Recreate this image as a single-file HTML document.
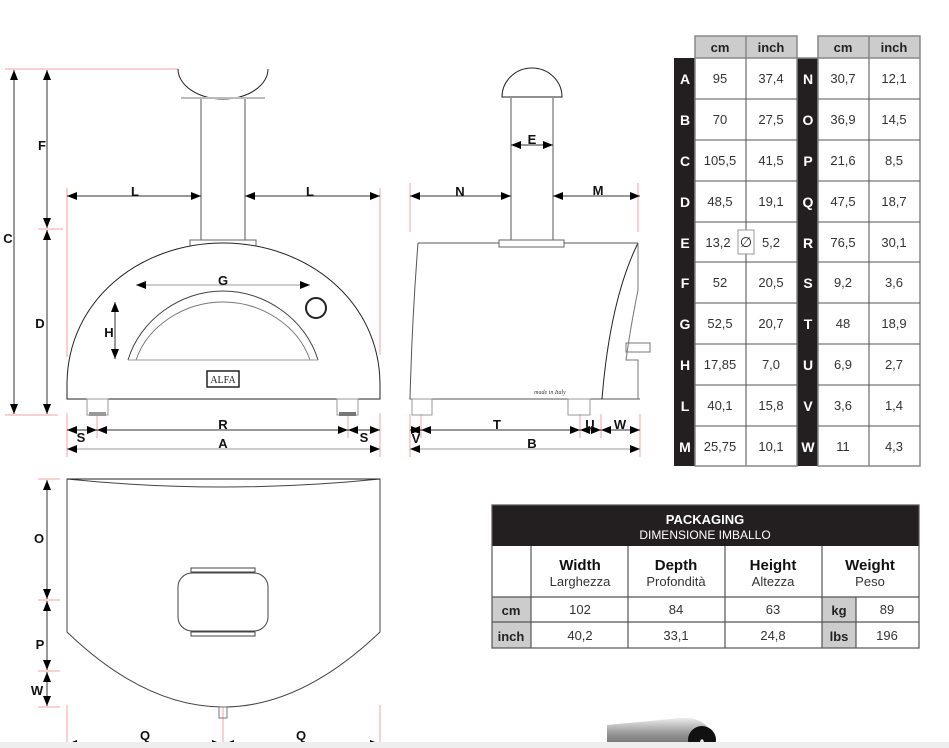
<!DOCTYPE html>
<html><head><meta charset="utf-8"><style>
body{margin:0;background:#fff;width:949px;height:748px;overflow:hidden;font-family:"Liberation Sans",sans-serif}
svg{position:absolute;left:0;top:0}
.l{font-family:"Liberation Sans",sans-serif;font-weight:bold;font-size:13px;fill:#111;text-anchor:middle}
.t{font-family:"Liberation Sans",sans-serif;font-size:13px;fill:#333;text-anchor:middle}
.w{font-family:"Liberation Sans",sans-serif;font-weight:900;font-size:14px;fill:#fff;text-anchor:middle}
</style></head><body>
<svg width="949" height="748" viewBox="0 0 949 748">
<defs>
<marker id="a" viewBox="0 0 10 8" refX="10" refY="4" markerWidth="10" markerHeight="8" markerUnits="userSpaceOnUse" orient="auto-start-reverse"><path d="M0,0L10,4L0,8Z" fill="#000"/></marker>
</defs>
<g stroke="#f4a0a0" stroke-width="1" fill="none">
<line x1="5" y1="69" x2="178" y2="69"/><line x1="5" y1="415" x2="58" y2="415"/><line x1="38" y1="229" x2="63" y2="229"/>
<line x1="67" y1="188" x2="67" y2="357"/><line x1="380" y1="188" x2="380" y2="355"/>
<line x1="106" y1="301" x2="208" y2="301"/><line x1="106" y1="360" x2="133" y2="360"/>
<line x1="67" y1="413" x2="67" y2="457"/><line x1="97" y1="413" x2="97" y2="438"/><line x1="348" y1="413" x2="348" y2="438"/><line x1="380" y1="413" x2="380" y2="457"/>
<line x1="310" y1="280" x2="310" y2="292"/>
<line x1="410" y1="183" x2="410" y2="232"/><line x1="638" y1="183" x2="638" y2="232"/>
<line x1="410" y1="414" x2="410" y2="457"/><line x1="421" y1="414" x2="421" y2="438"/><line x1="580" y1="414" x2="580" y2="438"/><line x1="601" y1="414" x2="601" y2="438"/><line x1="640" y1="414" x2="640" y2="457"/>
<line x1="38" y1="479" x2="60" y2="479"/><line x1="38" y1="600" x2="60" y2="600"/><line x1="38" y1="671" x2="60" y2="671"/><line x1="38" y1="707" x2="60" y2="707"/>
<line x1="67" y1="705" x2="67" y2="748"/><line x1="223" y1="705" x2="223" y2="748"/><line x1="380" y1="705" x2="380" y2="748"/>
</g>
<g stroke="#222" stroke-width="1" fill="none">
<path d="M178,69 A45,30 0 0 0 268,69"/>
<rect x="181" y="97" width="84" height="2" fill="#bbb" stroke="none"/>
<line x1="201" y1="99" x2="201" y2="240" stroke="#555"/><line x1="245" y1="99" x2="245" y2="240" stroke="#555"/>
<rect x="190" y="240" width="66" height="7" fill="#fff" stroke="#666"/>
<path d="M67,399 L67,385 C67,300 140,243 223,243 C306,243 380,300 380,385 L380,399 Z" fill="#fff"/>
<path d="M128,360 C140,320 180,291 223,291 C266,291 306,320 318,360" stroke="#444"/>
<path d="M136,360 C148,325 185,302 223,302 C261,302 298,325 310,360" stroke="#777"/>
<line x1="128" y1="360" x2="318" y2="360" stroke="#999"/>
<circle cx="316" cy="308" r="10" stroke-width="2"/>
<rect x="207" y="371" width="32" height="16" stroke-width="1.5"/>
<rect x="87" y="399" width="21" height="16" stroke="#999"/><rect x="89" y="412" width="17" height="4" fill="#999" stroke="none"/>
<rect x="337" y="399" width="21" height="16" stroke="#999"/><rect x="339" y="412" width="17" height="4" fill="#777" stroke="none"/>
<path d="M502,97 A30,29 0 0 1 562,97 Z" fill="#fff"/>
<line x1="511" y1="98" x2="511" y2="240" stroke="#555"/><line x1="553" y1="98" x2="553" y2="240" stroke="#555"/>
<rect x="499" y="240" width="65" height="7" fill="#fff" stroke="#666"/>
<path d="M418,243 L499,243 M564,243 L638,243 M418,243 Q412,320 410,399 L640,399" stroke="#555"/>
<path d="M638,243 Q610,300 602,399"/>
<path d="M638,243 L638,290 Q630,330 626,360 L638,360 L638,399" stroke="#777"/>
<rect x="626" y="343" width="24" height="9" stroke="#777"/>
<rect x="412" y="399" width="20" height="16" stroke="#999"/><rect x="568" y="399" width="22" height="16" stroke="#999"/>
<path d="M67,479 L67,632 Q223,782 380,632 L380,479 Q223,495 67,479 Z" fill="#fff" stroke="#444"/>
<line x1="67" y1="479" x2="380" y2="479"/>
<rect x="178" y="573" width="90" height="58" rx="14" stroke="#444"/>
<rect x="191" y="568" width="64" height="4" stroke="#444"/><rect x="191" y="632" width="64" height="4" stroke="#444"/>
<rect x="219" y="707" width="8" height="11" stroke="#777"/>
</g>
<g stroke="#333" stroke-width="1" marker-start="url(#a)" marker-end="url(#a)">
<line x1="14" y1="70" x2="14" y2="414"/>
<line x1="47" y1="70" x2="47" y2="228"/><line x1="47" y1="230" x2="47" y2="414"/>
<line x1="67" y1="196" x2="201" y2="196"/><line x1="245" y1="196" x2="380" y2="196"/>
<line x1="136" y1="285" x2="310" y2="285" stroke="#999"/>
<line x1="115" y1="302" x2="115" y2="359"/>
<line x1="67" y1="430" x2="97" y2="430"/><line x1="97" y1="430" x2="348" y2="430"/><line x1="348" y1="430" x2="380" y2="430"/>
<line x1="67" y1="449" x2="380" y2="449" stroke="#999"/>
<line x1="511" y1="145" x2="553" y2="145"/>
<line x1="410" y1="196" x2="511" y2="196"/><line x1="553" y1="196" x2="640" y2="196"/>
<line x1="410" y1="430" x2="421" y2="430"/><line x1="421" y1="430" x2="580" y2="430"/><line x1="580" y1="430" x2="601" y2="430"/><line x1="601" y1="430" x2="640" y2="430"/>
<line x1="410" y1="449" x2="640" y2="449" stroke="#999"/>
<line x1="47" y1="480" x2="47" y2="599"/><line x1="47" y1="601" x2="47" y2="670"/><line x1="47" y1="672" x2="47" y2="706"/>
<line x1="67" y1="744" x2="222" y2="744"/><line x1="224" y1="744" x2="380" y2="744"/>
</g>
<g class="l">
<text x="42" y="150" class="l">F</text><text x="8" y="243" class="l">C</text><text x="40" y="328" class="l">D</text>
<text x="135" y="196" class="l">L</text><text x="310" y="196" class="l">L</text>
<text x="223" y="285" class="l">G</text><text x="109" y="337" class="l">H</text>
<text x="223" y="429" class="l">R</text><text x="81" y="442" class="l">S</text><text x="364" y="442" class="l">S</text><text x="223" y="448" class="l">A</text>
<text x="532" y="144" class="l">E</text><text x="460" y="196" class="l">N</text><text x="598" y="195" class="l">M</text>
<text x="497" y="429" class="l">T</text><text x="416" y="443" class="l">V</text><text x="590" y="429" class="l">U</text><text x="620" y="429" class="l">W</text><text x="532" y="448" class="l">B</text>
<text x="39" y="543" class="l">O</text><text x="40" y="649" class="l">P</text><text x="37" y="695" class="l">W</text>
<text x="145" y="740" class="l">Q</text><text x="301" y="740" class="l">Q</text>
</g>
<text x="223" y="383" font-family="Liberation Serif,serif" font-size="10" text-anchor="middle" fill="#222">ALFA</text>
<text x="550" y="394" font-family="Liberation Serif,serif" font-style="italic" font-size="6" text-anchor="middle" fill="#333">made in Italy</text>

<rect x="695" y="36" width="102" height="22" fill="#ccc"/><rect x="818" y="36" width="102" height="22" fill="#ccc"/>
<rect x="674" y="58" width="21" height="408" fill="#231f20"/><rect x="797" y="58" width="21" height="408" fill="#231f20"/>
<g stroke="#888" stroke-width="1.5" fill="none">
<rect x="695" y="36" width="102" height="430"/><rect x="818" y="36" width="102" height="430"/>
<line x1="746" y1="36" x2="746" y2="466"/><line x1="869" y1="36" x2="869" y2="466"/>
<line x1="695" y1="58" x2="920" y2="58"/>
</g>
<g stroke="#555" stroke-width="1">
<line x1="695" y1="99" x2="797" y2="99"/><line x1="818" y1="99" x2="920" y2="99"/>
<line x1="695" y1="140" x2="797" y2="140"/><line x1="818" y1="140" x2="920" y2="140"/>
<line x1="695" y1="181" x2="797" y2="181"/><line x1="818" y1="181" x2="920" y2="181"/>
<line x1="695" y1="222" x2="797" y2="222"/><line x1="818" y1="222" x2="920" y2="222"/>
<line x1="695" y1="262" x2="797" y2="262"/><line x1="818" y1="262" x2="920" y2="262"/>
<line x1="695" y1="303" x2="797" y2="303"/><line x1="818" y1="303" x2="920" y2="303"/>
<line x1="695" y1="344" x2="797" y2="344"/><line x1="818" y1="344" x2="920" y2="344"/>
<line x1="695" y1="385" x2="797" y2="385"/><line x1="818" y1="385" x2="920" y2="385"/>
<line x1="695" y1="426" x2="797" y2="426"/><line x1="818" y1="426" x2="920" y2="426"/>
</g>
<rect x="738" y="230" width="16" height="24" fill="#fff" stroke="#999"/>
<text x="746" y="247" font-family="DejaVu Sans,sans-serif" font-size="14" text-anchor="middle" fill="#222">∅</text>
<g font-family="Liberation Sans,sans-serif" font-weight="bold" font-size="13" text-anchor="middle" fill="#222">
<text x="720" y="52">cm</text><text x="771" y="52">inch</text><text x="843" y="52">cm</text><text x="894" y="52">inch</text>
</g>
<g class="w">
<text x="685" y="84">A</text><text x="685" y="125">B</text><text x="685" y="166">C</text><text x="685" y="207">D</text><text x="685" y="248">E</text><text x="685" y="288">F</text><text x="685" y="329">G</text><text x="685" y="370">H</text><text x="685" y="411">L</text><text x="685" y="452">M</text>
<text x="808" y="84">N</text><text x="808" y="125">O</text><text x="808" y="166">P</text><text x="808" y="207">Q</text><text x="808" y="248">R</text><text x="808" y="288">S</text><text x="808" y="329">T</text><text x="808" y="370">U</text><text x="808" y="411">V</text><text x="808" y="452">W</text>
</g>
<g class="t">
<text x="720" y="83">95</text><text x="771" y="83">37,4</text><text x="843" y="83">30,7</text><text x="894" y="83">12,1</text>
<text x="720" y="124">70</text><text x="771" y="124">27,5</text><text x="843" y="124">36,9</text><text x="894" y="124">14,5</text>
<text x="720" y="165">105,5</text><text x="771" y="165">41,5</text><text x="843" y="165">21,6</text><text x="894" y="165">8,5</text>
<text x="720" y="206">48,5</text><text x="771" y="206">19,1</text><text x="843" y="206">47,5</text><text x="894" y="206">18,7</text>
<text x="718" y="247">13,2</text><text x="771" y="247">5,2</text><text x="843" y="247">76,5</text><text x="894" y="247">30,1</text>
<text x="720" y="287">52</text><text x="771" y="287">20,5</text><text x="843" y="287">9,2</text><text x="894" y="287">3,6</text>
<text x="720" y="328">52,5</text><text x="771" y="328">20,7</text><text x="843" y="328">48</text><text x="894" y="328">18,9</text>
<text x="720" y="369">17,85</text><text x="771" y="369">7,0</text><text x="843" y="369">6,9</text><text x="894" y="369">2,7</text>
<text x="720" y="410">40,1</text><text x="771" y="410">15,8</text><text x="843" y="410">3,6</text><text x="894" y="410">1,4</text>
<text x="720" y="451">25,75</text><text x="771" y="451">10,1</text><text x="843" y="451">11</text><text x="894" y="451">4,3</text>
</g>

<rect x="492" y="505" width="427" height="41" fill="#231f20"/>
<rect x="492" y="597" width="39" height="51" fill="#ccc"/><rect x="822" y="597" width="34" height="51" fill="#ccc"/>
<g stroke="#555" stroke-width="1.2" fill="none">
<rect x="492" y="505" width="427" height="143"/>
<line x1="492" y1="597" x2="919" y2="597"/><line x1="492" y1="622" x2="919" y2="622"/>
<line x1="531" y1="546" x2="531" y2="648"/><line x1="628" y1="546" x2="628" y2="648"/><line x1="725" y1="546" x2="725" y2="648"/><line x1="822" y1="546" x2="822" y2="648"/><line x1="856" y1="597" x2="856" y2="648"/>
</g>
<text x="705" y="524" font-family="Liberation Sans,sans-serif" font-weight="900" font-size="13" fill="#fff" text-anchor="middle">PACKAGING</text>
<text x="705" y="539" font-family="Liberation Sans,sans-serif" font-size="12" fill="#fff" text-anchor="middle">DIMENSIONE IMBALLO</text>
<g font-family="Liberation Sans,sans-serif" font-weight="900" font-size="15" fill="#111" text-anchor="middle">
<text x="580" y="570">Width</text><text x="676" y="570">Depth</text><text x="773" y="570">Height</text><text x="870" y="570">Weight</text>
</g>
<g class="t"><text x="580" y="586">Larghezza</text><text x="676" y="586">Profondità</text><text x="773" y="586">Altezza</text><text x="870" y="586">Peso</text>
<text x="580" y="614">102</text><text x="676" y="614">84</text><text x="773" y="614">63</text><text x="887" y="614">89</text>
<text x="580" y="640">40,2</text><text x="676" y="640">33,1</text><text x="773" y="640">24,8</text><text x="887" y="640">196</text></g>
<g font-family="Liberation Sans,sans-serif" font-weight="bold" font-size="13" fill="#222" text-anchor="middle">
<text x="511" y="615">cm</text><text x="511" y="641">inch</text><text x="839" y="615">kg</text><text x="839" y="641">lbs</text>
</g>
<defs><linearGradient id="g" x1="0" y1="0" x2="0" y2="1"><stop offset="0" stop-color="#eee"/><stop offset=".5" stop-color="#999"/><stop offset="1" stop-color="#666"/></linearGradient></defs>
<path d="M607,725 Q640,722 680,718 Q700,716 710,730 L710,748 L607,748 Z" fill="url(#g)"/>
<circle cx="702" cy="740" r="14" fill="#111"/>
<text x="702" y="748" font-family="Liberation Sans,sans-serif" font-weight="900" font-size="12" fill="#fff" text-anchor="middle">A</text>
<rect x="0" y="742" width="949" height="6" fill="#eee"/>
</svg>
</body></html>
